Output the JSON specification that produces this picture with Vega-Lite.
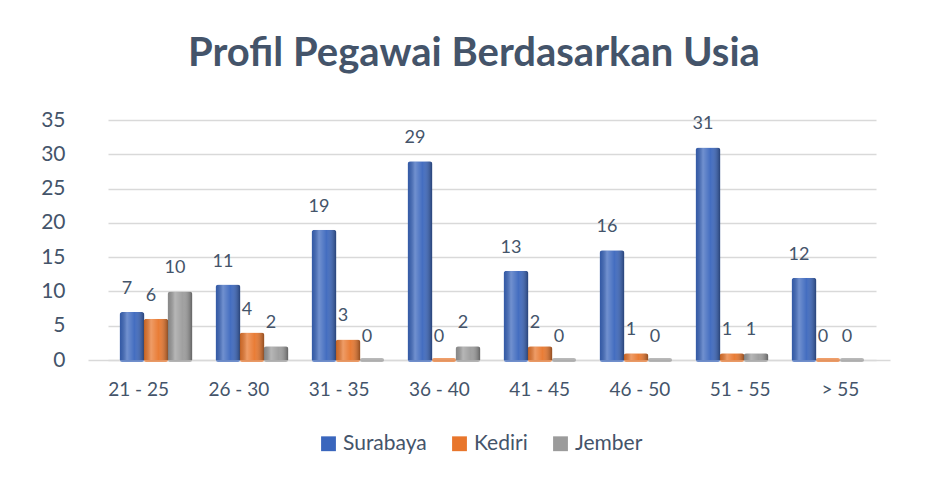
{
  "$schema": "https://vega.github.io/schema/vega-lite/v6.json",
  "width": 800,
  "height": 240,
  "autosize": "none",
  "padding": {"left": 88, "top": 120, "right": 38, "bottom": 117},
  "background": "white",
  "title": {
    "text": "Profil Pegawai Berdasarkan Usia",
    "font": "Lato",
    "fontSize": 40,
    "fontWeight": "bold",
    "color": "#44546A",
    "anchor": "middle",
    "offset": 35,
    "dx": -14
  },
  "config": {
    "view": {"stroke": null},
    "font": "Lato",
    "axis": {"labelFont": "Lato", "labelColor": "#44546A"},
    "legend": {"labelFont": "Lato"}
  },
  "data": {
    "values": [
      {"usia": "21 - 25", "kota": "Surabaya", "n": 7},
      {"usia": "21 - 25", "kota": "Kediri", "n": 6},
      {"usia": "21 - 25", "kota": "Jember", "n": 10},
      {"usia": "26 - 30", "kota": "Surabaya", "n": 11},
      {"usia": "26 - 30", "kota": "Kediri", "n": 4},
      {"usia": "26 - 30", "kota": "Jember", "n": 2},
      {"usia": "31 - 35", "kota": "Surabaya", "n": 19},
      {"usia": "31 - 35", "kota": "Kediri", "n": 3},
      {"usia": "31 - 35", "kota": "Jember", "n": 0},
      {"usia": "36 - 40", "kota": "Surabaya", "n": 29},
      {"usia": "36 - 40", "kota": "Kediri", "n": 0},
      {"usia": "36 - 40", "kota": "Jember", "n": 2},
      {"usia": "41 - 45", "kota": "Surabaya", "n": 13},
      {"usia": "41 - 45", "kota": "Kediri", "n": 2},
      {"usia": "41 - 45", "kota": "Jember", "n": 0},
      {"usia": "46 - 50", "kota": "Surabaya", "n": 16},
      {"usia": "46 - 50", "kota": "Kediri", "n": 1},
      {"usia": "46 - 50", "kota": "Jember", "n": 0},
      {"usia": "51 - 55", "kota": "Surabaya", "n": 31},
      {"usia": "51 - 55", "kota": "Kediri", "n": 1},
      {"usia": "51 - 55", "kota": "Jember", "n": 1},
      {"usia": "> 55", "kota": "Surabaya", "n": 12},
      {"usia": "> 55", "kota": "Kediri", "n": 0},
      {"usia": "> 55", "kota": "Jember", "n": 0}
    ]
  },
  "resolve": {"scale": {"x": "independent"}, "axis": {"x": "independent"}},
  "layer": [
    {
      "encoding": {
        "x": {
          "field": "usia",
          "type": "nominal",
          "sort": null,
          "title": null,
          "scale": {"range": [20, 788], "paddingInner": 0, "paddingOuter": 0},
          "axis": null
        },
        "xOffset": {
          "field": "kota",
          "type": "nominal",
          "sort": ["Surabaya", "Kediri", "Jember"],
          "scale": {"paddingInner": 0, "paddingOuter": 0.5}
        },
        "y": {
          "field": "n",
          "type": "quantitative",
          "title": null,
          "scale": {"domain": [0, 35]},
          "axis": {
            "values": [0, 5, 10, 15, 20, 25, 30, 35],
            "labelFontSize": 21,
            "labelPadding": 23,
            "labelOverlap": false,
            "ticks": false,
            "domain": false,
            "gridColor": "#D9D9D9",
            "gridWidth": 1.5
          }
        }
      },
      "layer": [
        {
          "mark": {"type": "tick", "thickness": 4, "size": 24, "cornerRadius": 2},
          "encoding": {
            "y": {"datum": 0},
            "color": {
              "field": "kota",
              "type": "nominal",
              "sort": ["Surabaya", "Kediri", "Jember"],
              "title": null,
              "scale": {"range": ["#3A66BD", "#E8762C", "#9B9B9B"]},
              "legend": {
                "orient": "none",
                "legendX": 230,
                "legendY": 313,
                "direction": "horizontal",
                "symbolType": "square",
                "symbolSize": 220,
                "symbolOpacity": 1,
                "labelFontSize": 21,
                "labelColor": "#44546A",
                "columnPadding": 22
              }
            }
          }
        },
        {
          "mark": {"type": "bar", "width": 25, "cornerRadiusTopLeft": 3, "cornerRadiusTopRight": 3, "opacity": 1},
          "encoding": {
            "color": {"field": "kota", "type": "nominal", "sort": ["Surabaya", "Kediri", "Jember"]}
          }
        },
        {
          "mark": {
            "type": "bar",
            "width": 25,
            "cornerRadiusTopLeft": 3,
            "cornerRadiusTopRight": 3,
            "fill": {
              "gradient": "linear",
              "x1": 0, "y1": 0, "x2": 1, "y2": 0,
              "stops": [
                {"offset": 0, "color": "rgba(0,0,0,0.12)"},
                {"offset": 0.3, "color": "rgba(255,255,255,0.28)"},
                {"offset": 0.6, "color": "rgba(255,255,255,0.05)"},
                {"offset": 1, "color": "rgba(0,0,0,0.4)"}
              ]
            }
          }
        },
        {
          "mark": {"type": "text", "baseline": "bottom", "dy": -14, "dx": -5, "fontSize": 18, "color": "#44546A"},
          "encoding": {"text": {"field": "n", "type": "quantitative"}}
        }
      ]
    },
    {
      "mark": {"type": "point", "opacity": 0},
      "encoding": {
        "x": {
          "field": "usia",
          "type": "nominal",
          "sort": null,
          "title": null,
          "scale": {"range": [0, 802], "paddingInner": 0, "paddingOuter": 0},
          "axis": {
            "labelAngle": 0,
            "labelFontSize": 19,
            "labelPadding": 20,
            "ticks": false,
            "grid": false,
            "domainColor": "#D9D9D9",
            "domainWidth": 1.5
          }
        },
        "y": {
          "field": "n",
          "type": "quantitative",
          "title": null,
          "scale": {"domain": [0, 35]},
          "axis": {
            "values": [0, 5, 10, 15, 20, 25, 30, 35],
            "labelFontSize": 21,
            "labelPadding": 23,
            "labelOverlap": false,
            "ticks": false,
            "domain": false,
            "gridColor": "#D9D9D9",
            "gridWidth": 1.5
          }
        }
      }
    }
  ]
}
